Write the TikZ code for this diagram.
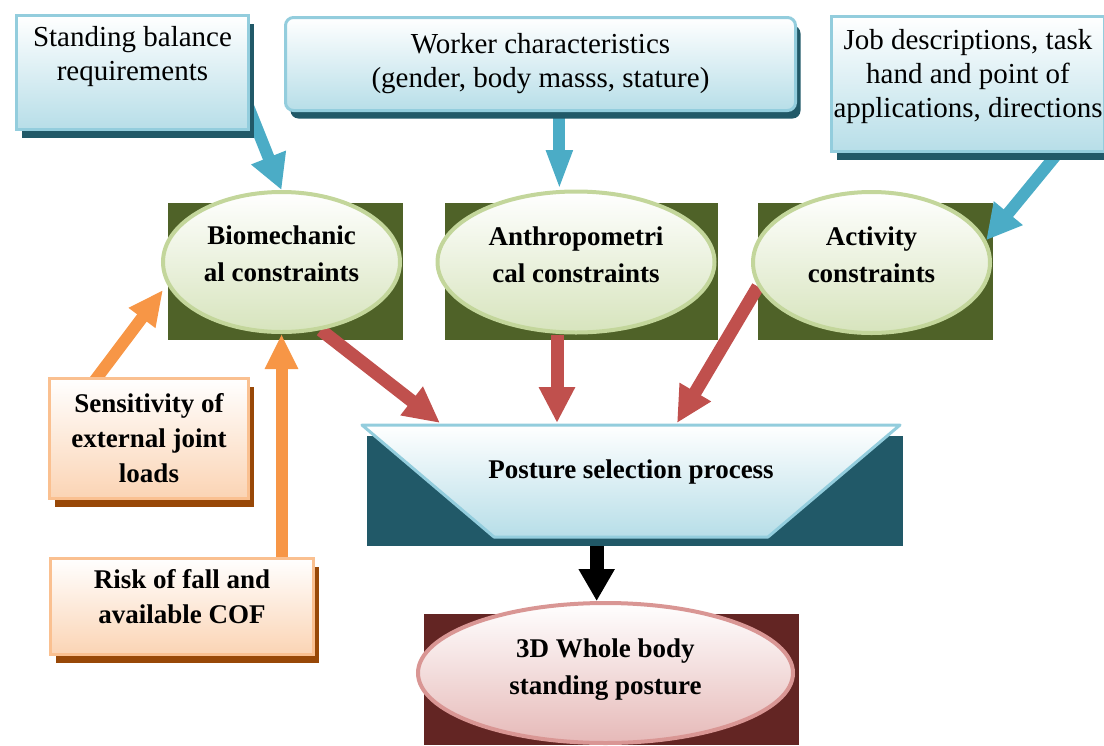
\documentclass[tikz,border=0pt]{standalone}
\usepackage{fontspec}
\setmainfont{Liberation Serif}
\usetikzlibrary{arrows.meta,shapes.geometric,shadows,calc}
\pgfdeclarelayer{back}
\pgfdeclarelayer{mid}
\pgfsetlayers{back,mid,main}
\definecolor{tealdark}{HTML}{215968}
\definecolor{blueedge}{HTML}{93CDDD}
\definecolor{blueshade}{HTML}{B7DEE8}
\definecolor{arrblue}{HTML}{4BACC6}
\definecolor{greenedge}{HTML}{C3D69B}
\definecolor{greenshade}{HTML}{D7E4BD}
\definecolor{greendark}{HTML}{4F6228}
\definecolor{orangeedge}{HTML}{FAC090}
\definecolor{orangeshade}{HTML}{FBD4B4}
\definecolor{arrorange}{HTML}{F79646}
\definecolor{brownshadow}{HTML}{984807}
\definecolor{arrred}{HTML}{C0504D}
\definecolor{reddark}{HTML}{632523}
\definecolor{pinkedge}{HTML}{D99694}
\definecolor{pinkshade}{HTML}{E6B9B8}
\newcommand{\liftedtext}[2]{\raisebox{#1}[\height][\depth]{\begin{tabular}{@{}c@{}}#2\end{tabular}}}
\begin{document}
\begin{tikzpicture}[x=1pt,y=-1pt,
  topbox/.style={draw=blueedge, line width=3pt, top color=white, bottom color=blueshade,
    general shadow={fill=tealdark, shadow xshift=5pt, shadow yshift=-8pt},
    inner sep=0pt, anchor=north west, font=\fontsize{29}{34}\selectfont, align=center},
  obox/.style={draw=orangeedge, line width=3pt, top color=white, bottom color=orangeshade,
    general shadow={fill=brownshadow, shadow xshift=5pt, shadow yshift=-8pt},
    inner sep=0pt, anchor=north west, font=\bfseries\fontsize{27}{35}\selectfont, align=center},
  cellipse/.style={ellipse, draw=greenedge, line width=4pt, top color=white, bottom color=greenshade,
    inner sep=0pt, font=\bfseries\fontsize{27}{37}\selectfont, align=center},
  backrect/.style={rectangle, inner sep=0pt, anchor=north west},
  bluearrow/.style={draw=arrblue, line width=12pt, -{Triangle[width=35pt,length=35pt]}},
  redarrow/.style={draw=arrred, line width=13pt, -{Triangle[width=34pt,length=36pt]}},
  orangearrow/.style={draw=arrorange, line width=12pt, -{Triangle[width=31pt,length=35pt]}},
  blackarrow/.style={draw=black, line width=14pt, -{Triangle[width=34pt,length=32pt]}},
  txt/.style={font=\bfseries\fontsize{27}{36}\selectfont, align=center, inner sep=0pt}
]
\useasboundingbox (0,0) rectangle (1104,745);

% background rectangles
\begin{pgfonlayer}{back}
\node[backrect, fill=greendark, minimum width=235pt, minimum height=137pt] (biobg) at (168,203) {};
\node[backrect, fill=greendark, minimum width=273pt, minimum height=137pt] (anthbg) at (445,203) {};
\node[backrect, fill=greendark, minimum width=235pt, minimum height=137pt] (actbg) at (758,203) {};
\node[backrect, fill=tealdark, minimum width=536pt, minimum height=110pt] (psbg) at (367,436) {};
\node[backrect, fill=reddark, minimum width=375pt, minimum height=131pt] (wbbg) at (424,614) {};
\end{pgfonlayer}

% top boxes
\node[topbox, minimum width=232pt, minimum height=114pt] (sb) at (15,14)
  {\parbox[c][114pt][t]{232pt}{\centering\rule{0pt}{31pt}Standing balance\\requirements}};
\node[topbox, rounded corners=8pt, minimum width=510pt, minimum height=93pt] (wc) at (284,16)
  {Worker characteristics\\(gender, body masss, stature)};
\node[topbox, minimum width=273pt, minimum height=135pt] (job) at (830,15)
  {\parbox[c][135pt][t]{273pt}{\centering\rule{0pt}{33pt}Job descriptions, task\\hand and point of\\applications, directions}};

% constraint ellipses
\node[cellipse, minimum width=237pt, minimum height=140pt] (bio) at (281.5,262)
  {\liftedtext{6pt}{Biomechanic\\al constraints}};
\node[cellipse, minimum width=277pt, minimum height=141pt] (anth) at (576,262)
  {\liftedtext{5pt}{Anthropometri\\cal constraints}};
\node[cellipse, minimum width=237pt, minimum height=141pt] (act) at (871.5,262.5)
  {\liftedtext{6pt}{Activity\\constraints}};

% orange boxes
\node[obox, minimum width=199pt, minimum height=120pt] (sen) at (48,377) {Sensitivity of\\external joint\\loads};
\node[obox, minimum width=263pt, minimum height=96pt] (risk) at (49,557)
  {\liftedtext{8pt}{Risk of fall and\\available COF}};

% posture selection trapezoid
\coordinate (tl) at (362,425);
\coordinate (tr) at (900,425);
\coordinate (br) at (768,537);
\coordinate (bl) at (494,537);
\path[draw=blueedge, line width=3pt, line join=round, top color=white, bottom color=blueshade]
  (tl) -- (tr) -- (br) -- (bl) -- cycle;
\node[txt] (ps) at (631,472) {Posture selection process};

% final posture
\node[ellipse, draw=pinkedge, line width=4pt, top color=white, bottom color=pinkshade, inner sep=0pt,
  font=\bfseries\fontsize{27}{37}\selectfont, align=center,
  minimum width=375pt, minimum height=140pt] (wb) at (605.5,673)
  {\liftedtext{4pt}{3D Whole body\\standing posture}};

% connector end points
\coordinate (psa) at (440,423);
\coordinate (psb) at (557,423);
\coordinate (psc) at (677,423);
\coordinate (osen) at (163,290);

% connectors
\begin{pgfonlayer}{mid}
\draw[bluearrow] ($(sb.south east)+(-8,-40)$) -- (bio.north);
\draw[bluearrow, -{Triangle[width=24pt,length=40pt]}] (wc.south -| anth.103) -- (anth.103);
\draw[bluearrow] ($(job.south east)+(-40,-10)$) -- (act.11);
\draw[redarrow] (bio.-60) -- (psa);
\draw[redarrow] (anth.south -| psb) -- (psb);
\draw[redarrow] (act.192) -- (psc);
\draw[orangearrow] ($(sen.north west)+(42,10)$) -- (osen);
\draw[orangearrow] (bio.south |- risk.north) -- (bio.south);
\draw[blackarrow] (psbg.south -| wb.97) -- (wb.97);
\end{pgfonlayer}
\end{tikzpicture}
\end{document}
